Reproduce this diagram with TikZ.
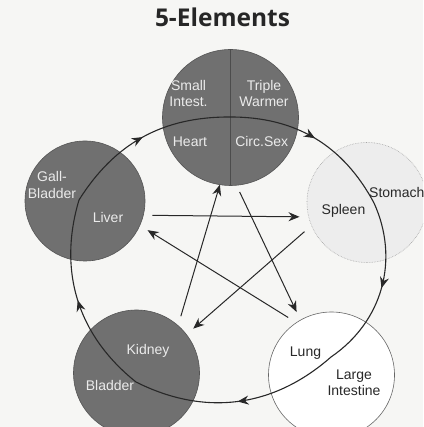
\documentclass[tikz,border=0pt]{standalone}
\usepackage{fontspec}
\setmainfont{Liberation Sans}
\newfontfamily\titlefont{Open Sans}
\usetikzlibrary{arrows.meta,decorations.markings}
\definecolor{paper}{RGB}{246,246,244}
\definecolor{organ}{RGB}{112,112,112}
\definecolor{ink}{RGB}{40,40,40}

\begin{document}
\begin{tikzpicture}
  [x=1pt,y=1pt,
   elem/.style={circle,inner sep=0pt,outer sep=9pt,fill=organ,draw=organ!75!black,line width=.6pt},
   lbl/.style={font=\fontsize{14}{16.5}\selectfont,align=center,inner sep=0pt,text=white!92!black},
   ring/.style={draw=ink,line width=1.1pt,postaction={decorate},
     decoration={markings,mark=at position .5 with {\arrow{Stealth[length=11pt,width=9pt]}}}},
   ctrl/.style={draw=ink,line width=1pt,-{Stealth[length=11pt,width=9pt]}}]
  \fill[paper] (0,0) rectangle (423,427);
  \clip (0,0) rectangle (423,427);

  \node[anchor=base,font=\titlefont\bfseries\fontsize{24.5}{28}\selectfont,text=black!85] (title) at (222.5,400) {5-Elements};

  % the five elements
  \node[elem,minimum size=136pt,outer sep=0pt] (fire) at (230.5,309.5) {};
  \node[elem,minimum size=120pt] (wood) at (85,226) {};
  \node[elem,minimum size=120pt,fill=black!7,draw=black!35,densely dotted] (earth) at (367,224.5) {};
  \node[elem,minimum size=126pt] (water) at (136.5,54) {};
  \node[elem,minimum size=126pt,fill=white,draw=black!60] (metal) at (331.5,52) {};
  \draw[black!70,line width=.6pt] (fire.north) -- (fire.south);

  % generating cycle
  \coordinate (rF) at (230,310);
  \coordinate (rE) at (374,224);
  \coordinate (rM) at (331,70);
  \coordinate (rK) at (136,45);
  \coordinate (rW) at (79,227);
  \foreach \from/\to/\bend in {rW/rF/29,rF/rE/31,rE/rM/40,rM/rK/34,rK/rW/34}
    \draw[ring] (\from) to[bend left=\bend] (\to);

  % controlling cycle
  \draw[ctrl] (wood.-12) -- (earth.192);
  \draw[ctrl] (earth.205) -- (water.38);
  \draw[ctrl] (water.52) -- (fire.261);
  \draw[ctrl] ([shift={(277:75)}]fire.center) -- (metal.119);
  \draw[ctrl] (metal.127) -- (wood.-25);

  \node[lbl] (smallint) at (188.5,333.5) {Small\\Intest.};
  \node[lbl] (triple) at (264,333.5) {Triple\\Warmer};
  \node[lbl] (heart) at (190,285) {Heart};
  \node[lbl] (circsex) at (261.7,285) {Circ.Sex};
  \node[lbl] (gall) at (52,242) {Gall-\\Bladder};
  \node[lbl] (liver) at (108,209) {Liver};
  \node[lbl,text=ink] (spleen) at (343.5,216) {Spleen};
  \node[lbl,text=ink,anchor=west] (stomach) at (369,234) {Stomach};
  \node[lbl] (kidney) at (148,76) {Kidney};
  \node[lbl] (bladder) at (110,42) {Bladder};
  \node[lbl,text=ink] (lung) at (305.5,74) {Lung};
  \node[lbl,text=ink] (largeint) at (354,44) {Large\\Intestine};
\end{tikzpicture}
\end{document}
